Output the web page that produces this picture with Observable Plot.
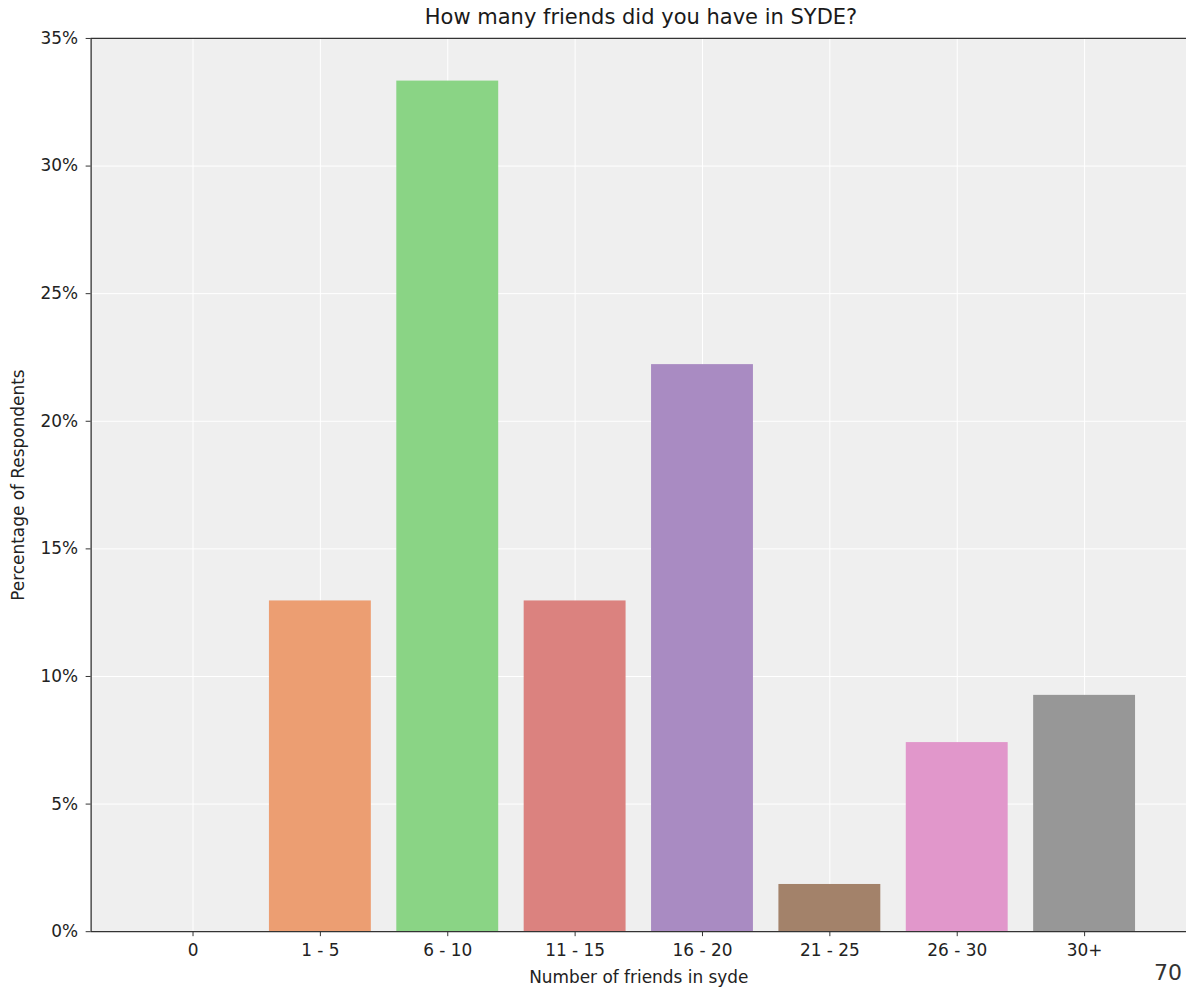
<!DOCTYPE html>
<html>
<head>
<meta charset="utf-8">
<script src="https://cdn.jsdelivr.net/npm/d3@7"></script>
<script src="https://cdn.jsdelivr.net/npm/@observablehq/plot@0.6"></script>
<style>
  html, body { margin: 0; padding: 0; background: #fff; overflow: hidden; width: 1186px; height: 987px; }
  body { position: relative; font-family: "DejaVu Sans", sans-serif; }
  #title { position: absolute; left: 91px; width: 1100px; top: 5px; text-align: center; font-size: 21px; color: #1a1a1a; }
  #chart { position: absolute; left: 0; top: 30px; }
  #pageno { position: absolute; right: 4px; top: 960px; font-size: 22px; color: #333; }
</style>
</head>
<body>
<div id="title">How many friends did you have in SYDE?</div>
<div id="chart"></div>
<div id="pageno">70</div>
<script>
const categories = ["0", "1 - 5", "6 - 10", "11 - 15", "16 - 20", "21 - 25", "26 - 30", "30+"];
const percentages = [0, 12.96, 33.33, 12.96, 22.22, 1.85, 7.41, 9.26];
const barColors = ["#7fb2d9", "#ec9e72", "#8ad485", "#db827f", "#a98bc2", "#a3826a", "#e197cb", "#979797"];
const yTicks = [0, 5, 10, 15, 20, 25, 30, 35];

const data = categories.map((c, i) => ({ c, i, v: percentages[i], color: barColors[i] }));

const chart = Plot.plot({
  width: 1191,
  height: 961,
  marginTop: 8,
  marginBottom: 56,
  marginLeft: 91,
  marginRight: 0,
  style: { fontFamily: "DejaVu Sans, sans-serif", fontSize: "17px", color: "#222", background: "transparent", overflow: "visible" },
  x: { type: "linear", domain: [-0.8, categories.length - 0.2] },
  y: { domain: [0, 35] },
  marks: [
    Plot.frame({ fill: "#efefef", stroke: "none" }),
    Plot.gridY(yTicks, { stroke: "#ffffff", strokeOpacity: 1, strokeWidth: 1 }),
    Plot.gridX(d3.range(categories.length), { stroke: "#ffffff", strokeOpacity: 1, strokeWidth: 1 }),
    Plot.rectY(data, { x1: d => d.i - 0.4, x2: d => d.i + 0.4, y1: 0, y2: "v", fill: "color" }),
    Plot.ruleY([0, 35], { stroke: "#333", strokeWidth: 1.3 }),
    Plot.ruleX([-0.8], { stroke: "#333", strokeWidth: 1.3 }),
    Plot.axisY(yTicks, {
      tickFormat: d => d + "%",
      tickSize: 5,
      tickPadding: 8,
      fontSize: 17,
      stroke: "#333",
      label: "Percentage of Respondents",
      labelAnchor: "center",
      labelArrow: "none",
      labelOffset: 79
    }),
    Plot.axisX(d3.range(categories.length), {
      tickFormat: i => categories[i],
      tickSize: 5,
      tickPadding: 7,
      fontSize: 17,
      stroke: "#333",
      label: "Number of friends in syde",
      labelAnchor: "center",
      labelArrow: "none",
      labelOffset: 52
    })
  ]
});
document.getElementById("chart").appendChild(chart);
</script>
</body>
</html>
